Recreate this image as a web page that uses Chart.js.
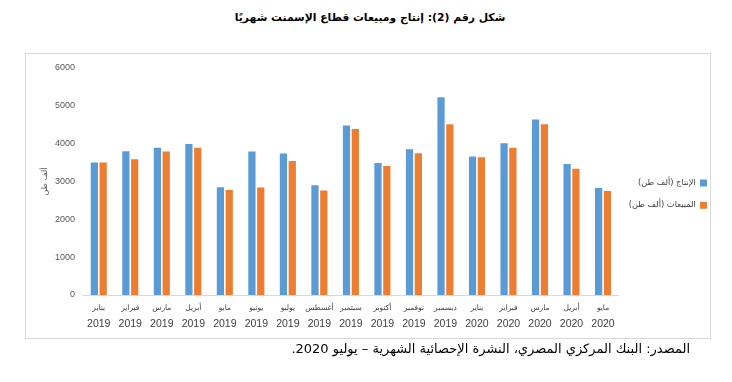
<!DOCTYPE html>
<html>
<head>
<meta charset="utf-8">
<script src="https://cdn.jsdelivr.net/npm/chart.js@4.4.0/dist/chart.umd.min.js"></script>
<style>
  html, body { margin: 0; padding: 0; background: #fff; }
  #wrap { position: relative; width: 732px; height: 382px; overflow: hidden; }
  #title { position: absolute; left: 0; width: 740px; top: 11px; text-align: center; direction: rtl;
           font-family: "DejaVu Sans", sans-serif; font-weight: bold; font-size: 10.8px; color: #000; }
  #frame { position: absolute; left: 25px; top: 53px; width: 684px; height: 284px; border: 1px solid #d9d9d9; }
  #source { position: absolute; right: 42px; top: 341px; direction: rtl; white-space: nowrap;
            font-family: "DejaVu Sans", sans-serif; font-size: 13px; color: #000; }
  #c { position: absolute; left: 0; top: 0; }
</style>
</head>
<body>
<div id="wrap">
  <div id="title">شكل رقم (2): إنتاج ومبيعات قطاع الإسمنت شهريًا</div>
  <div id="frame"></div>
  <canvas id="c" width="732" height="382"></canvas>
  <div id="source">المصدر: البنك المركزي المصري، النشرة الإحصائية الشهرية – يوليو 2020.</div>
</div>
<script>
const months = ['يناير','فبراير','مارس','أبريل','مايو','يونيو','يوليو','أغسطس','سبتمبر','أكتوبر','نوفمبر','ديسمبر','يناير','فبراير','مارس','أبريل','مايو'];
const years = ['2019','2019','2019','2019','2019','2019','2019','2019','2019','2019','2019','2019','2020','2020','2020','2020','2020'];
const production = [3500, 3800, 3890, 3990, 2850, 3790, 3740, 2900, 4480, 3490, 3850, 5225, 3660, 4010, 4640, 3465, 2830];
const sales = [3500, 3590, 3790, 3890, 2775, 2840, 3545, 2760, 4390, 3410, 3745, 4510, 3640, 3890, 4510, 3340, 2750];
const yTicks = [0, 1000, 2000, 3000, 4000, 5000, 6000];
const seriesNames = ['الإنتاج (ألف طن)', 'المبيعات (ألف طن)'];
const yTitle = 'ألف طن';

const fontFam = '"Liberation Sans", Arial, sans-serif';
const arFam = '"DejaVu Sans", sans-serif';

new Chart(document.getElementById('c'), {
  type: 'bar',
  data: {
    labels: months,
    datasets: [
      { label: seriesNames[0], data: production, backgroundColor: '#5B9BD5', borderWidth: 0 },
      { label: seriesNames[1], data: sales, backgroundColor: '#ED7D31', borderWidth: 0 }
    ]
  },
  options: {
    responsive: false,
    animation: false,
    layout: { padding: { top: 68, left: 40, right: 11, bottom: 41 } },
    datasets: { bar: { categoryPercentage: 0.56, barPercentage: 0.82 } },
    plugins: {
      title: { display: false },
      tooltip: { enabled: false },
      legend: {
        position: 'right',
        fullSize: false,
        rtl: true,
        textDirection: 'rtl',
        title: { display: true, text: ' ', font: { size: 1 }, padding: { top: 24, bottom: 0 } },
        labels: {
          boxWidth: 7, boxHeight: 7, padding: 14,
          color: '#404040',
          font: { family: arFam, size: 8.3 }
        }
      }
    },
    scales: {
      x: {
        grid: { display: false, drawTicks: false },
        border: { display: true, color: '#d9d9d9', width: 1 },
        ticks: {
          color: '#404040', maxRotation: 0, autoSkip: false, padding: 9,
          font: { family: arFam, size: 7.5 }
        },
        afterFit: (s) => { s.height = 22; }
      },
      x2: {
        type: 'category',
        position: 'bottom',
        grid: { display: false, drawTicks: false },
        border: { display: false },
        ticks: {
          color: '#404040', maxRotation: 0, autoSkip: false, padding: 1,
          font: { family: fontFam, size: 10.5 },
          callback: (v, i) => years[i]
        },
        afterFit: (s) => { s.height = 24; }
      },
      y: {
        min: 0, max: 6000,
        afterBuildTicks: (s) => { s.ticks = yTicks.map(v => ({ value: v })); },
        grid: { display: false, drawTicks: false },
        border: { display: false },
        ticks: { color: '#595959', padding: 8, font: { family: fontFam, size: 9 }, callback: (v) => String(v) },
        title: { display: true, text: yTitle, color: '#595959', font: { family: arFam, size: 8 }, padding: 0 },
        afterFit: (s) => { s.width = 43; }
      }
    }
  }
});
</script>
</body>
</html>
